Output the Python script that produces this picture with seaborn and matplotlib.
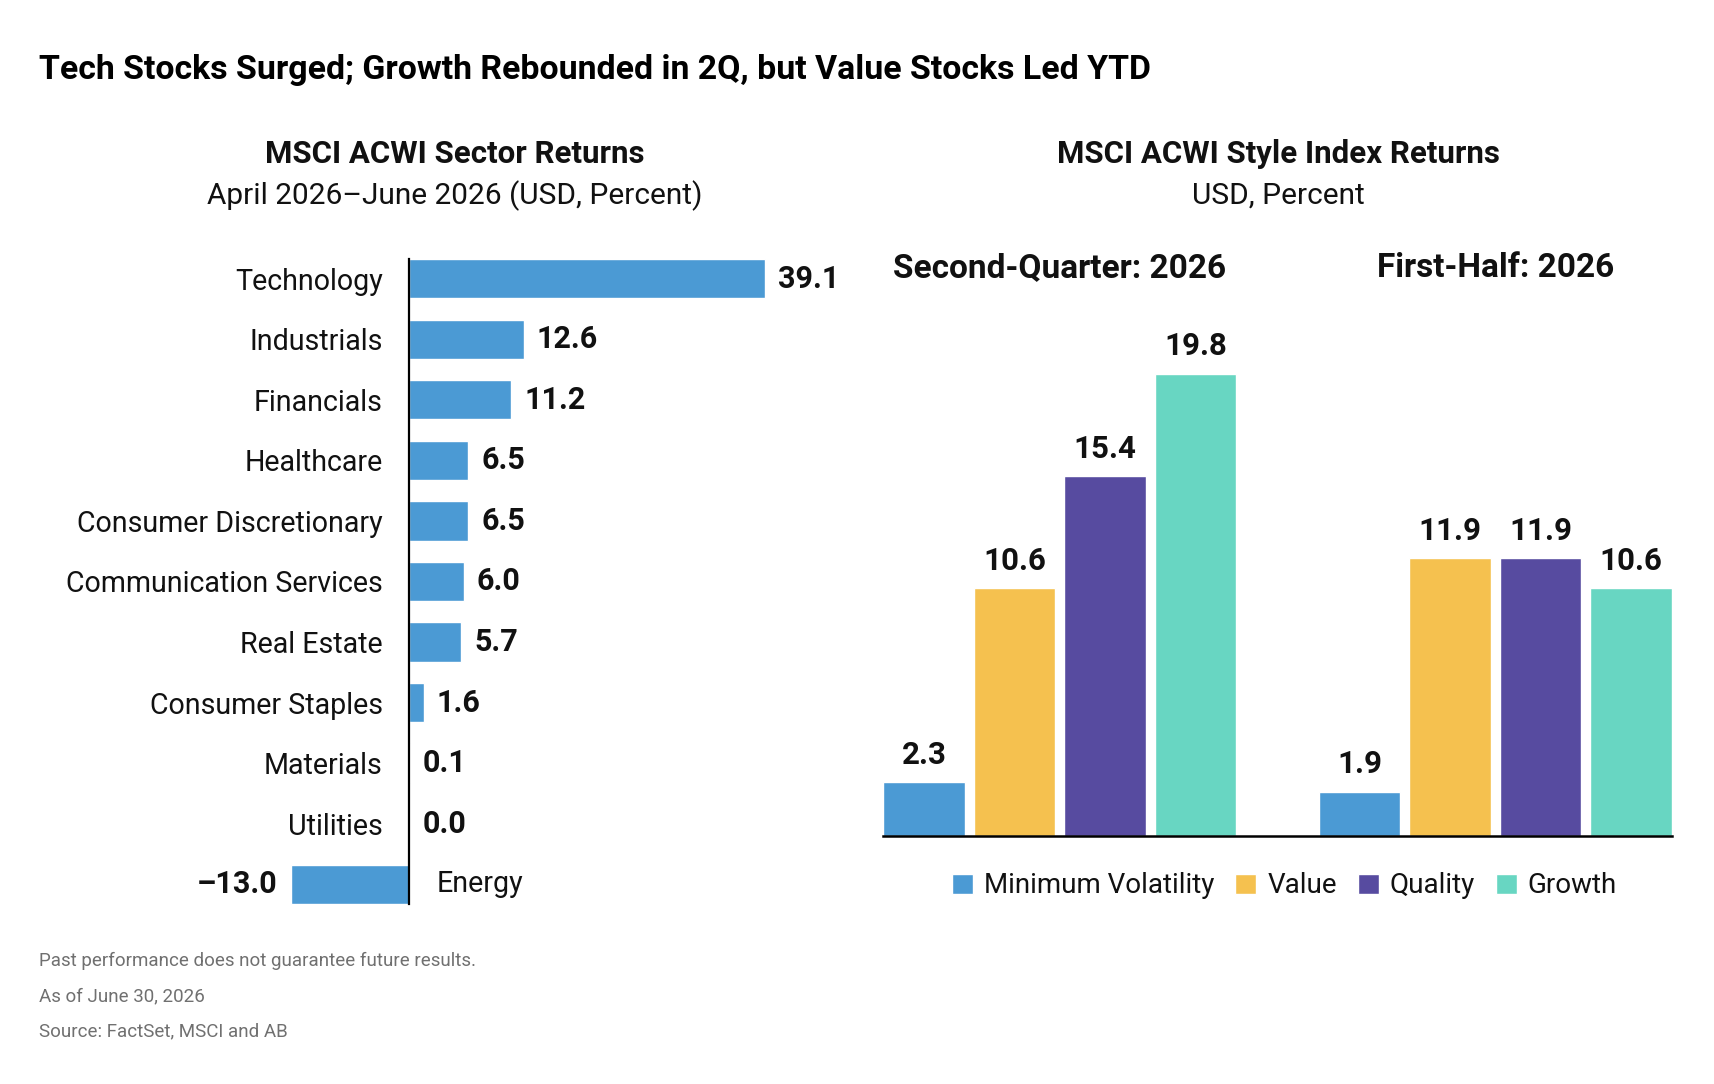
import matplotlib
matplotlib.use("Agg")
import matplotlib.pyplot as plt
import seaborn as sns
import pandas as pd
import numpy as np
from matplotlib.patches import Patch

# ---- data ----
sectors = ["Technology", "Industrials", "Financials", "Healthcare",
           "Consumer Discretionary", "Communication Services", "Real Estate",
           "Consumer Staples", "Materials", "Utilities", "Energy"]
sector_returns = [39.1, 12.6, 11.2, 6.5, 6.5, 6.0, 5.7, 1.6, 0.1, 0.0, -13.0]

periods = ["Second-Quarter: 2026", "First-Half: 2026"]
styles = ["Minimum Volatility", "Value", "Quality", "Growth"]
q2_returns = [2.3, 10.6, 15.4, 19.8]
h1_returns = [1.9, 11.9, 11.9, 10.6]

style_colors = ["#4B9AD4", "#F5C14F", "#574BA0", "#68D6C2"]
sector_color = "#4B9AD4"

title = "Tech Stocks Surged; Growth Rebounded in 2Q, but Value Stocks Led YTD"
left_title = "MSCI ACWI Sector Returns"
left_sub = "April 2026\u2013June 2026 (USD, Percent)"
right_title = "MSCI ACWI Style Index Returns"
right_sub = "USD, Percent"
notes = ["Past performance does not guarantee future results.",
         "As of June 30, 2026",
         "Source: FactSet, MSCI and AB"]

sns.set_theme(style="white")
plt.rcParams["font.family"] = ["Roboto", "DejaVu Sans"]

TXT = "#111111"

def fmt(v):
    return f"{v:.1f}".replace("-", "\u2013")

fig = plt.figure(figsize=(17.14, 10.84), dpi=100)
fig.patch.set_facecolor("white")

# ---- left: sector returns ----
ax1 = fig.add_axes([0.1643, 0.1563, 0.3132, 0.6146])
df1 = pd.DataFrame({"sector": sectors, "ret": sector_returns})
sns.barplot(data=df1, x="ret", y="sector", orient="h", color=sector_color,
            saturation=1, width=0.65, ax=ax1)
ax1.set_xlim(-14, 45)
ax1.set_ylim(len(sectors) - 0.5, -0.5)
for k, s in ax1.spines.items():
    s.set_visible(k == "left")
ax1.spines["left"].set_position(("data", 0))
ax1.spines["left"].set_bounds(-0.325, len(sectors) - 1 + 0.325)
ax1.spines["left"].set_color("black")
ax1.spines["left"].set_linewidth(1.6)
ax1.set_xticks([])
ax1.set_xlabel("")
ax1.set_ylabel("")
ax1.set_yticks(range(len(sectors)))
ax1.set_yticklabels([s if v >= 0 else "" for s, v in zip(sectors, sector_returns)],
                    fontsize=20.6, color=TXT)
ax1.tick_params(axis="y", length=0, pad=19)
for t in ax1.get_yticklabels():
    t.set_y(t.get_position()[1])
ax1.bar_label(ax1.containers[0], labels=[fmt(v) for v in sector_returns],
              padding=9.5, fontsize=22, fontweight="bold", color=TXT)
for i, (s, v) in enumerate(zip(sectors, sector_returns)):
    if v < 0:
        ax1.annotate(s, xy=(0, i), xytext=(20, 0), textcoords="offset points",
                     ha="left", va="center", fontsize=20.6, color=TXT)

# ---- right: style index returns ----
ax2 = fig.add_axes([0.5152, 0.2288, 0.4603, 0.504])
df2 = pd.DataFrame({"period": np.repeat(periods, len(styles)),
                    "style": styles * len(periods),
                    "ret": q2_returns + h1_returns})
sns.barplot(data=df2, x="period", y="ret", hue="style", hue_order=styles,
            palette=style_colors, saturation=1, width=0.832, gap=0.1,
            legend=False, ax=ax2)
ax2.set_xlim(-0.4056, 1.4056)
ax2.set_ylim(0, 23.4)
for k, s in ax2.spines.items():
    s.set_visible(k == "bottom")
ax2.spines["bottom"].set_color("black")
ax2.spines["bottom"].set_linewidth(1.8)
ax2.set_yticks([])
ax2.set_xlabel("")
ax2.set_ylabel("")
ax2.xaxis.tick_top()
ax2.tick_params(axis="x", length=0, pad=4, labelsize=24, labelcolor=TXT)
for lbl in ax2.get_xticklabels():
    lbl.set_fontweight("bold")
for c in ax2.containers:
    ax2.bar_label(c, labels=[fmt(b.get_height()) for b in c], padding=9,
                  fontsize=22.5, fontweight="bold", color=TXT)

handles = [Patch(facecolor=c, label=s) for s, c in zip(styles, style_colors)]
leg = fig.legend(handles=handles, loc="center", bbox_to_anchor=(0.7495, 0.1827),
                 ncol=4, frameon=False, handlelength=0.75,
                 handleheight=0.75, handletextpad=0.4, columnspacing=0.75,
                 prop={"size": 20})
for t in leg.get_texts():
    t.set_color(TXT)

# ---- text ----
fig.text(0.0228, 0.9354, title, fontsize=24.4, fontweight="bold", ha="left",
         va="center", color="black")
fig.text(0.2655, 0.858, left_title, fontsize=22.5, fontweight="bold",
         ha="center", va="center", color=TXT)
fig.text(0.2655, 0.8192, left_sub, fontsize=21.5, ha="center", va="center",
         color=TXT)
fig.text(0.7456, 0.858, right_title, fontsize=22.5, fontweight="bold",
         ha="center", va="center", color=TXT)
fig.text(0.7456, 0.8192, right_sub, fontsize=21.5, ha="center", va="center",
         color=TXT)
for y, t in zip([0.1135, 0.0812, 0.0489], notes):
    fig.text(0.0228, y, t, fontsize=13.5, color="#707070", ha="left",
             va="center")

fig.savefig("out.png", dpi=100, facecolor="white")
